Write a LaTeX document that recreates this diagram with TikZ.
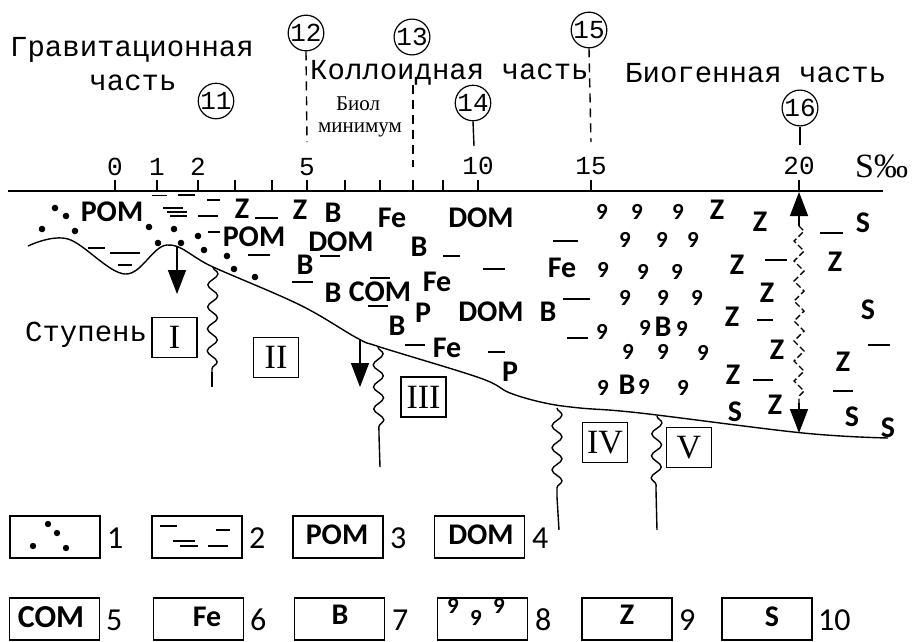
\documentclass[tikz,border=0pt]{standalone}
\usepackage{fontspec}
\newfontfamily\tw{Liberation Mono}
\newfontfamily\carl{Carlito}
\newfontfamily\ser{Liberation Serif}
\usetikzlibrary{arrows.meta,decorations.pathmorphing}
\begin{document}
\begin{tikzpicture}[x=1pt,y=-1pt,
  lbl/.style={font=\carl\bfseries\fontsize{30}{30}\selectfont, inner sep=0pt},
  nine/.style={font=\carl\bfseries\fontsize{23}{23}\selectfont, inner sep=0pt},
  tt/.style={font=\tw\fontsize{29}{29}\selectfont, inner sep=0pt},
  ticklbl/.style={font=\tw\fontsize{26}{26}\selectfont, inner sep=0pt},
  circ/.style={circle, draw, line width=1.2pt, minimum size=35pt, inner sep=0pt, font=\tw\fontsize{26}{26}\selectfont},
  rbox/.style={draw, line width=1.4pt, minimum width=45pt, minimum height=40pt, inner sep=0pt, font=\ser\fontsize{34}{34}\selectfont},
  lbox/.style={draw, line width=1.4pt, minimum width=90pt, minimum height=42pt, inner sep=0pt},
  lnum/.style={font=\carl\fontsize{32}{32}\selectfont, anchor=west, inner sep=0pt},
  small/.style={font=\ser\fontsize{21}{21}\selectfont, inner sep=0pt},
  wl/.style={line width=1.5pt},
  dl/.style={line width=1.4pt, dash pattern=on 9pt off 6pt},
  arr/.style={line width=1.6pt, -{Triangle[length=24pt,width=18pt]}},
  wavy/.style={line width=1.4pt, decorate, decoration={snake, amplitude=5pt, segment length=22pt}},
]
\fill[white] (0,0) rectangle (914,641);
\useasboundingbox (0,0) rectangle (914,641);

% axis
\draw[line width=1.6pt] (8,191) -- (883,191);
\foreach \x in {115,157,198,235,272,307,345,380,413,443,478,591,799}
  \draw[line width=1.4pt] (\x,180) -- (\x,191);
\node[ticklbl] (t0) at (115,167) {0};
\node[ticklbl] (t1) at (157,167) {1};
\node[ticklbl] (t2) at (198,167) {2};
\node[ticklbl] (t5) at (307,167) {5};
\node[ticklbl] (t10) at (478,166) {10};
\node[ticklbl] (t15) at (591,166) {15};
\node[ticklbl] (t20) at (799,166) {20};
\node[font=\ser\fontsize{34}{34}\selectfont, inner sep=0pt, anchor=west] (sp) at (855,166) {S‰};

% top texts
\node[tt, anchor=west] (g1) at (10,50) {Гравитационная};
\node[tt] (g2) at (133,83) {часть};
\node[tt, anchor=west] (k1) at (310,73) {Коллоидная часть};
\node[tt, anchor=west] (b1) at (625,73) {Биогенная часть};
\node[small] (bm1) at (358,104) {Биол};
\node[small] (bm2) at (360,130) {минимум};

% circled numbers
\node[circ] (c11) at (216,101) {11};
\node[circ] (c12) at (306,33) {12};
\node[circ] (c13) at (412,37) {13};
\node[circ] (c14) at (473,103) {14};
\node[circ] (c15) at (589,30) {15};
\node[circ] (c16) at (800,108) {16};
\coordinate (e12) at (307,142);
\coordinate (s13) at (413,85);
\coordinate (e13) at (413,167);
\coordinate (e14) at (474,146);
\coordinate (e15) at (591,142);
\coordinate (e16) at (800,145);
\draw[dl] (c12.south) -- (e12);
\draw[dl] (s13) -- (e13);
\draw[line width=1.4pt] (c14.south) -- (e14);
\draw[dl] (c15.south) -- (e15);
\draw[line width=1.4pt] (c16.south) -- (e16);

% bottom profile
\draw[line width=1.4pt] plot[smooth, tension=0.6] coordinates {(28,246) (68,239) (125,274) (167,245) (213,267) (300,305) (357,338) (380,347) (480,378) (510,393) (545,403) (580,408) (640,413) (803,433) (888,438)};

% dots
\foreach \x/\y in {55/208,66/216,42/229,75/231,149/227,174/229,158/243,181/243,198/236,204/250,227/256,234/269,255/277}
  \fill (\x,\y) circle (3.3pt);

% water dashes
\foreach \a/\b/\y in {152/167/195.5,178/195/195,163/183/208,167/187/212,170/187/216,198/218/216,207/220/200,208/220/232,255/278/218,248/270/255,320/340/256,292/313/282,370/390/278,368/388/306,88/105/248,110/140/253,118/132/265,443/460/256,483/505/269,553/578/241,563/590/299,567/588/338,405/425/345,488/505/352,757/773/320,765/787/260,753/773/380,820/843/233,833/853/391,868/890/345}
  \draw[wl] (\a,\y) -- (\b,\y);

% labels
\foreach \t/\x/\y [count=\i] in {POM/112/212,Z/242/209,Z/300/210,B/333/213,Fe/392/218,DOM/481/218,POM/254/237,DOM/341/242,B/419/247,B/305/265,B/333/293,COM/380/292,Fe/437/282,P/423/313,DOM/491/312,B/548/312,B/397/326,Fe/447/348,P/510/372,Fe/562/268,B/663/327,B/627/385,Z/717/210,Z/760/222,Z/737/265,Z/835/262,Z/767/293,Z/732/317,Z/777/350,Z/843/362,Z/733/375,Z/775/405,S/863/223,S/868/310,S/735/412,S/852/417,S/888/428}
  \node[lbl] (m\i) at (\x,\y) {\t};

% nines
\foreach \x/\y [count=\i] in {602/212,637/212,678/212,625/240,662/240,693/240,603/270,643/272,677/272,625/298,663/298,697/298,602/332,645/328,682/329,628/352,663/352,703/353,603/388,644/387,683/388}
  \node[nine] (n\i) at (\x,\y) {9};

% arrows
\coordinate (a1s) at (177,247); \coordinate (a1e) at (177,294);
\draw[arr] (a1s) -- (a1e);
\coordinate (a2s) at (360,340); \coordinate (a2e) at (360,387);
\draw[arr] (a2s) -- (a2e);
\coordinate (da1) at (799,192); \coordinate (da2) at (799,226);
\coordinate (da3) at (799,403); \coordinate (da4) at (799,433);
\draw[arr] (da2) -- (da1);
\draw[arr] (da3) -- (da4);
\draw[line width=1.4pt, dash pattern=on 6pt off 3pt, decorate, decoration={zigzag, amplitude=5pt, segment length=20pt}] (da2) -- (da3);

% wavy boundaries
\coordinate (w1a) at (213,267); \coordinate (w1b) at (212,372); \coordinate (w1c) at (212,387);
\coordinate (w2a) at (378,347); \coordinate (w2b) at (379,435); \coordinate (w2c) at (380,467);
\coordinate (w3a) at (557,408); \coordinate (w3b) at (557,497); \coordinate (w3c) at (559,530);
\coordinate (w4a) at (657,416); \coordinate (w4b) at (656,490); \coordinate (w4c) at (657,530);
\draw[wavy] (w1a) -- (w1b); \draw[line width=1.4pt] (w1b) -- (w1c);
\draw[wavy] (w2a) -- (w2b); \draw[line width=1.4pt] (w2b) -- (w2c);
\draw[wavy] (w3a) -- (w3b); \draw[line width=1.4pt] (w3b) -- (w3c);
\draw[wavy] (w4a) -- (w4b); \draw[line width=1.4pt] (w4b) -- (w4c);

% steps
\node[tt, anchor=west] (st) at (25,335) {Ступень};
\node[rbox] (s1) at (174.5,337.5) {I};
\node[rbox] (s2) at (276,357.5) {II};
\node[rbox] (s3) at (423.5,397) {III};
\node[rbox] (s4) at (605,442.5) {IV};
\node[rbox] (s5) at (689,447.5) {V};

% legend row 1
\node[lbox] (L1) at (55,537) {};
\foreach \x/\y in {48/524,57/533,33/546,66/548} \fill (\x,\y) circle (3.2pt);
\node[lnum] (N1) at (107,538) {1};
\node[lbox] (L2) at (197,537) {};
\foreach \a/\b/\y in {160/177/526,173/195/541,180/198/546,208/228/546,216/230/530}
  \draw[wl] (\a,\y) -- (\b,\y);
\node[lnum] (N2) at (249,538) {2};
\node[lbox] (L3) at (338,537) {};
\node[lbl] (T3) at (337,535) {POM};
\node[lnum] (N3) at (390,538) {3};
\node[lbox] (L4) at (479.5,537) {};
\node[lbl] (T4) at (481,535) {DOM};
\node[lnum] (N4) at (532,538) {4};
% legend row 2
\node[lbox] (L5) at (54.5,619) {};
\node[lbl, font=\carl\bfseries\fontsize{32}{32}\selectfont] (T5) at (51,617) {COM};
\node[lnum] (N5) at (106,620) {5};
\node[lbox] (L6) at (198.5,619) {};
\node[lbl] (T6) at (207,617) {Fe};
\node[lnum] (N6) at (250,620) {6};
\node[lbox] (L7) at (339.5,619) {};
\node[lbl] (T7) at (340,615) {B};
\node[lnum] (N7) at (392,620) {7};
\node[lbox] (L8) at (482.5,619) {};
\node[nine] (T8a) at (453,606) {9};
\node[nine] (T8b) at (476,618) {9};
\node[nine] (T8c) at (499,606) {9};
\node[lnum] (N8) at (535,620) {8};
\node[lbox] (L9) at (627,619) {};
\node[lbl] (T9) at (627,615) {Z};
\node[lnum] (N9) at (679,620) {9};
\node[lbox] (L10) at (767,619) {};
\node[lbl] (T10) at (772,617) {S};
\node[lnum] (N10) at (818,620) {10};
\end{tikzpicture}
\end{document}
